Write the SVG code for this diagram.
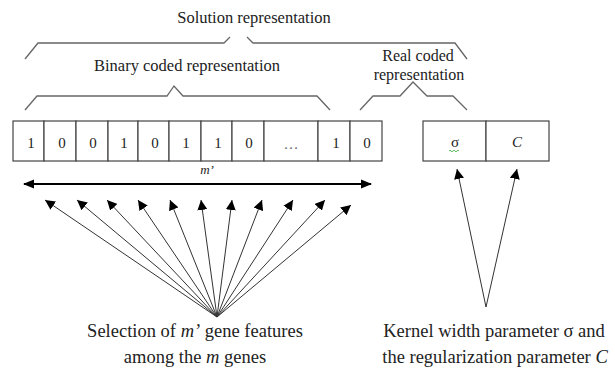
<svg xmlns="http://www.w3.org/2000/svg" width="615" height="370" viewBox="0 0 615 370" font-family="'Liberation Serif', 'DejaVu Serif', serif">
  <style>
    text { font-family: "Liberation Serif", "DejaVu Serif", serif; font-size: 16.5px; fill: #222; }
    .mid { text-anchor: middle; }
    .it { font-style: italic; }
    .digit { font-size: 15px; }
    .label { font-size: 18.5px; }
    .small { font-size: 16px; }
    .brace { fill: none; stroke: #666; stroke-width: 1.3; }
    .cell { fill: #fff; stroke: #444; stroke-width: 1.2; }
    .arr { stroke: #333; stroke-width: 1; fill: none; marker-end: url(#head); }
  </style>
  <defs>
    <marker id="head" markerUnits="userSpaceOnUse" markerWidth="12" markerHeight="10" refX="10" refY="5" orient="auto">
      <path d="M0,0 L10,5 L0,10 Z" fill="#000"/>
    </marker>
    <marker id="bighead" markerUnits="userSpaceOnUse" markerWidth="12" markerHeight="10" refX="10" refY="5" orient="auto-start-reverse">
      <path d="M0,0.5 L11,5 L0,9.5 Z" fill="#000"/>
    </marker>
  </defs>

  <!-- brace over the whole solution -->
  <g id="solution">
    <path class="brace" d="M25,59 L38,43 L224,43 L230,37 M247,37 L253,43 L455,43 L467,59"/>
    <text class="mid" x="254" y="23">Solution representation</text>
  </g>

  <!-- binary part brace -->
  <g id="binary">
    <path class="brace" d="M25,110 L37,96 L167,96 L174,86 L183,96 L317,96 L330,110"/>
    <text class="mid" x="187" y="71">Binary coded representation</text>
  </g>

  <!-- real part brace -->
  <g id="real">
    <path class="brace" d="M360,110 L373,96 L400,96 L413,82 L427,96 L453,96 L467,110"/>
    <text class="mid small" x="418" y="61">Real coded</text>
    <text class="mid small" x="419" y="80">representation</text>
  </g>

  <!-- binary string of m' genes -->
  <g id="bits">
    <rect class="cell" x="13" y="121" width="31" height="40"/>
    <rect class="cell" x="44" y="121" width="32" height="40"/>
    <rect class="cell" x="76" y="121" width="32" height="40"/>
    <rect class="cell" x="108" y="121" width="30" height="40"/>
    <rect class="cell" x="138" y="121" width="31" height="40"/>
    <rect class="cell" x="169" y="121" width="32" height="40"/>
    <rect class="cell" x="201" y="121" width="31" height="40"/>
    <rect class="cell" x="232" y="121" width="32" height="40"/>
    <rect class="cell" x="264" y="121" width="54" height="40"/>
    <rect class="cell" x="318" y="121" width="32" height="40"/>
    <rect class="cell" x="350" y="121" width="32" height="40"/>
    <text class="mid digit" x="31" y="148">1</text>
    <text class="mid digit" x="62" y="148">0</text>
    <text class="mid digit" x="93" y="148">0</text>
    <text class="mid digit" x="124" y="148">1</text>
    <text class="mid digit" x="155" y="148">0</text>
    <text class="mid digit" x="186" y="148">1</text>
    <text class="mid digit" x="218" y="148">1</text>
    <text class="mid digit" x="249" y="148">0</text>
    <text class="mid digit" x="291" y="149" style="fill:#666">…</text>
    <text class="mid digit" x="336" y="148">1</text>
    <text class="mid digit" x="367" y="148">0</text>
  </g>

  <!-- kernel and regularization parameters -->
  <g id="params">
    <rect class="cell" x="423" y="121" width="63" height="40"/>
    <rect class="cell" x="486" y="121" width="63" height="40"/>
    <text class="mid digit" x="455" y="147">σ</text>
    <path d="M449,151 q1,-1.5 2,0 t2,0 t2,0 t2,0 t2,0" fill="none" stroke="#3a3" stroke-width="0.8"/>
    <text class="mid it digit" x="517" y="147">C</text>
  </g>

  <!-- length of the binary string -->
  <g id="length">
    <text class="mid it" x="207" y="174" style="font-size:13px">m’</text>
  </g>

  <g id="connectors">
    <line x1="24" y1="184" x2="371" y2="184" stroke="#000" stroke-width="2" marker-start="url(#bighead)" marker-end="url(#bighead)"/>
    <line class="arr" x1="217" y1="317" x2="45" y2="200"/>
    <line class="arr" x1="217" y1="317" x2="77" y2="200"/>
    <line class="arr" x1="217" y1="317" x2="107" y2="200"/>
    <line class="arr" x1="217" y1="317" x2="138" y2="200"/>
    <line class="arr" x1="217" y1="317" x2="170" y2="200"/>
    <line class="arr" x1="217" y1="317" x2="201" y2="200"/>
    <line class="arr" x1="217" y1="317" x2="232" y2="200"/>
    <line class="arr" x1="217" y1="317" x2="262" y2="200"/>
    <line class="arr" x1="217" y1="317" x2="293" y2="200"/>
    <line class="arr" x1="217" y1="317" x2="325" y2="200"/>
    <line class="arr" x1="217" y1="317" x2="351" y2="205"/>
    <line class="arr" x1="486" y1="307" x2="457" y2="169"/>
    <line class="arr" x1="486" y1="307" x2="517" y2="169"/>
  </g>

  <g id="selection">
    <text class="mid label" x="195" y="337">Selection of <tspan class="it">m’</tspan> gene features</text>
    <text class="mid label" x="195" y="363">among the <tspan class="it">m</tspan> genes</text>
  </g>

  <g id="kernel">
    <text class="mid label" x="494" y="337">Kernel width parameter σ and</text>
    <text class="mid label" x="495" y="363">the regularization parameter <tspan class="it">C</tspan></text>
  </g>
</svg>
